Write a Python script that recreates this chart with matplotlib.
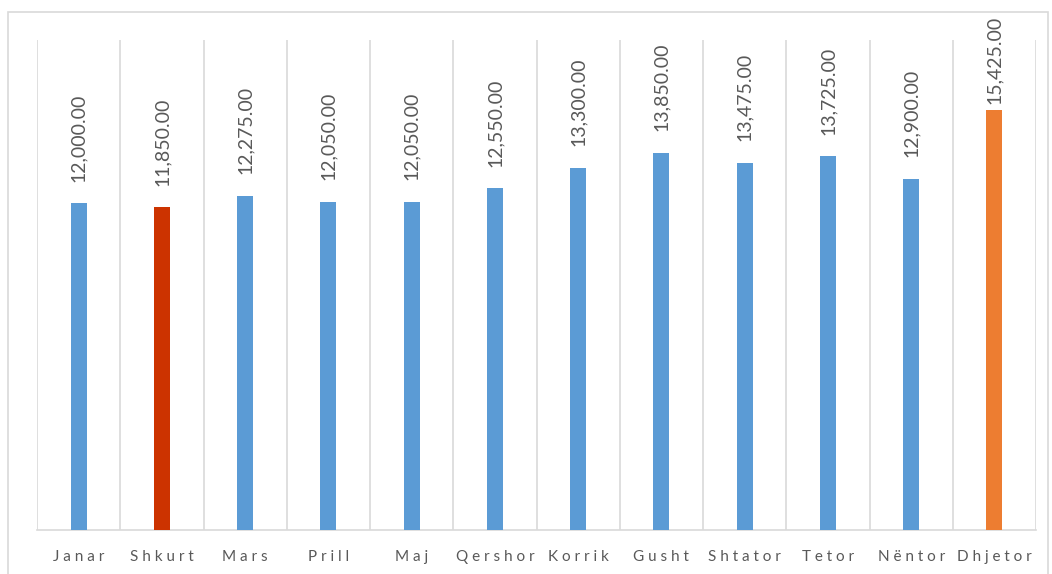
import matplotlib.pyplot as plt
from matplotlib.patches import Rectangle

# monthly values
months = ["Janar", "Shkurt", "Mars", "Prill", "Maj", "Qershor", "Korrik",
          "Gusht", "Shtator", "Tetor", "Nëntor", "Dhjetor"]
values = [12000, 11850, 12275, 12050, 12050, 12550, 13300,
          13850, 13475, 13725, 12900, 15425]
colors = ["#5b9bd5"] * 12
colors[1] = "#cc3300"   # lowest month
colors[11] = "#ed7d31"  # highest month

plt.rcParams['font.family'] = ['Lato', 'DejaVu Sans']

fig = plt.figure(figsize=(10.52, 5.74), dpi=100)
# light frame around the chart area
fig.patches.append(Rectangle((8 / 1052, -0.1), 1040 / 1052, 1.1 - 12 / 574,
                             transform=fig.transFigure, fill=False,
                             edgecolor="#d9d9d9", linewidth=1.2))
ax = fig.add_axes([37 / 1052, 44 / 574, 999 / 1052, 490 / 574])

x = list(range(len(months)))
ax.bar(x, values, width=0.19, color=colors, zorder=3)

# labels sit a bit above the bar, but get pushed down if they would leave the chart
for xi, v in zip(x, values):
    ax.text(xi, min(v + 800, 15650), f"{v:,.2f}", rotation=90, ha="center",
            va="bottom", fontsize=14, color="#595959")

# vertical gridlines between categories
for b in range(len(months) + 1):
    ax.axvline(b - 0.5, color="#d9d9d9", linewidth=1.2, zorder=1)

ax.set_xlim(-0.5, len(months) - 0.5)
ax.set_ylim(0, 18000)
ax.set_yticks([])
ax.set_xticks(x)
ax.set_xticklabels([" ".join(m) for m in months], fontsize=11, color="#595959",
                   va="baseline")
ax.tick_params(axis="x", length=0, pad=22)
for s in ["top", "right", "left"]:
    ax.spines[s].set_visible(False)
ax.spines["bottom"].set_color("#d9d9d9")
ax.spines["bottom"].set_linewidth(1.2)

fig.savefig("out.png", dpi=100)
